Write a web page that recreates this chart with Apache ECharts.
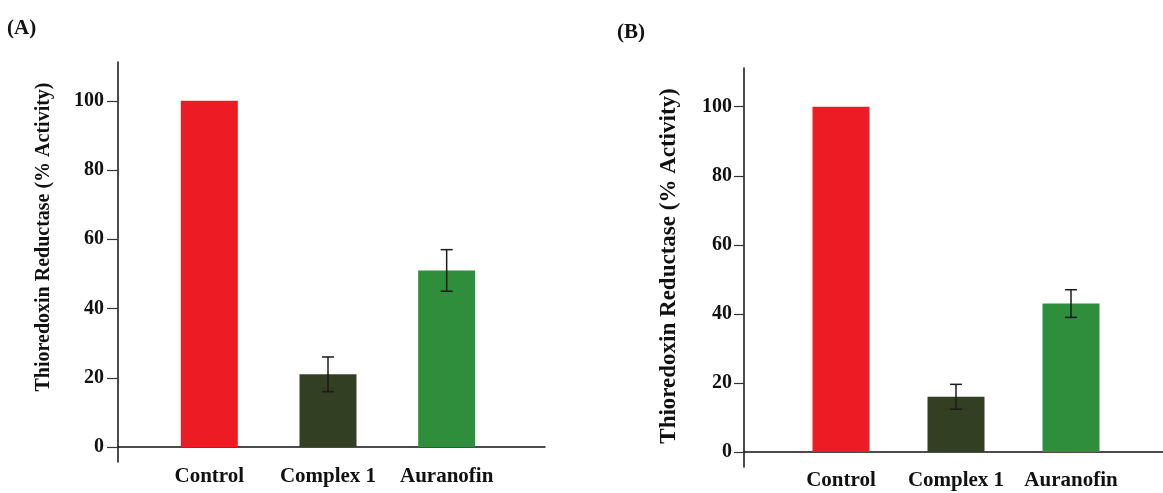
<!DOCTYPE html>
<html><head><meta charset="utf-8">
<script src="https://cdn.jsdelivr.net/npm/echarts@6/dist/echarts.min.js"></script>
<style>html,body{margin:0;padding:0;background:#fff}#c{width:1163px;height:493px}</style>
</head><body><div id="c"></div>
<script>
const categories = ['Control', 'Complex 1', 'Auranofin'];
const valuesA = [100, 21, 51];
const errorsA = [0, 5, 6];
const valuesB = [100, 16, 43];
const errorsB = [0, 3.6, 4];
const yTicks = [0, 20, 40, 60, 80, 100];
const barColors = ['#ED1C24', '#323F22', '#2E8E3B'];
const yAxisTitle = 'Thioredoxin Reductase (% Activity)';
const panelLabels = ['(A)', '(B)'];

const FONT = '"Liberation Serif", "Times New Roman", serif';
const YMIN = -4.33, YMAX = 111.2;

function errRender(params, api) {
  const x = api.value(0), y = api.value(1), e = api.value(2);
  const hi = api.coord([x, y + e]);
  const lo = api.coord([x, y - e]);
  const hw = 6;
  const st = { stroke: '#1b1b1b', lineWidth: 1.5 };
  return { type: 'group', children: [
    { type: 'line', shape: { x1: hi[0], y1: hi[1], x2: lo[0], y2: lo[1] }, style: st },
    { type: 'line', shape: { x1: hi[0] - hw, y1: hi[1], x2: hi[0] + hw, y2: hi[1] }, style: st },
    { type: 'line', shape: { x1: lo[0] - hw, y1: lo[1], x2: lo[0] + hw, y2: lo[1] }, style: st }
  ]};
}

function barData(vals) {
  return vals.map((v, i) => ({ value: v, itemStyle: { color: barColors[i] } }));
}
function errData(vals, errs) {
  return vals.map((v, i) => [i, v, errs[i]]).filter(d => d[2] > 0);
}

function lineAxisX(g) {
  return { gridIndex: g, type: 'value', min: 0, max: 1,
    axisLine: { show: true, onZero: true, lineStyle: { color: '#111', width: 1.5 } },
    axisTick: { show: false }, axisLabel: { show: false }, splitLine: { show: false } };
}
function catAxisX(g, margin) {
  return { gridIndex: g, type: 'category', data: categories,
    axisLine: { show: false }, axisTick: { show: false }, splitLine: { show: false },
    axisLabel: { interval: 0, hideOverlap: false, fontFamily: FONT, fontWeight: 'bold', fontSize: 21, color: '#111', margin: margin } };
}
function valAxisY(g, tickLen, margin) {
  return { gridIndex: g, type: 'value', min: YMIN, max: YMAX,
    axisLine: { show: true, onZero: false, lineStyle: { color: '#111', width: 1.5 } },
    axisTick: { show: true, length: tickLen, customValues: yTicks, lineStyle: { color: '#333', width: 1.2 } },
    axisLabel: { customValues: yTicks, margin: margin, fontFamily: FONT, fontWeight: 'bold', fontSize: 20, color: '#111' },
    splitLine: { show: false } };
}
function hiddenY(g) {
  return { gridIndex: g, type: 'value', min: YMIN, max: YMAX, show: false };
}

const chart = echarts.init(document.getElementById('c'));
chart.setOption({
  backgroundColor: '#fff',
  animation: false,
  title: [
    { text: panelLabels[0], left: 7, top: 18, padding: 0, textStyle: { fontFamily: FONT, fontWeight: 'bold', fontSize: 21, color: '#111' } },
    { text: panelLabels[1], left: 617, top: 22, padding: 0, textStyle: { fontFamily: FONT, fontWeight: 'bold', fontSize: 21, color: '#111' } }
  ],
  graphic: [
    { type: 'text', x: 44, y: 237, rotation: Math.PI / 2,
      style: { text: yAxisTitle, fontFamily: FONT, fontWeight: 'bold', fontSize: 20, fill: '#111', align: 'center', verticalAlign: 'middle' } },
    { type: 'text', x: 669, y: 266, rotation: Math.PI / 2,
      style: { text: yAxisTitle, fontFamily: FONT, fontWeight: 'bold', fontSize: 23, fill: '#111', align: 'center', verticalAlign: 'middle' } }
  ],
  grid: [
    { left: 118, top: 62, width: 427, height: 400 },
    { left: 150, top: 62, width: 356, height: 400 },
    { left: 744, top: 68, width: 419, height: 399 },
    { left: 783.5, top: 68, width: 345, height: 399 }
  ],
  xAxis: [lineAxisX(0), catAxisX(1, 4), lineAxisX(2), catAxisX(3, 3)],
  yAxis: [valAxisY(0, 11, 14), hiddenY(1), valAxisY(2, 10, 12), hiddenY(3)],
  series: [
    { type: 'bar', xAxisIndex: 1, yAxisIndex: 1, barWidth: 57, data: barData(valuesA) },
    { type: 'custom', xAxisIndex: 1, yAxisIndex: 1, renderItem: errRender, data: errData(valuesA, errorsA), z: 10 },
    { type: 'bar', xAxisIndex: 3, yAxisIndex: 3, barWidth: 57, data: barData(valuesB) },
    { type: 'custom', xAxisIndex: 3, yAxisIndex: 3, renderItem: errRender, data: errData(valuesB, errorsB), z: 10 }
  ]
});
</script>
</body></html>
